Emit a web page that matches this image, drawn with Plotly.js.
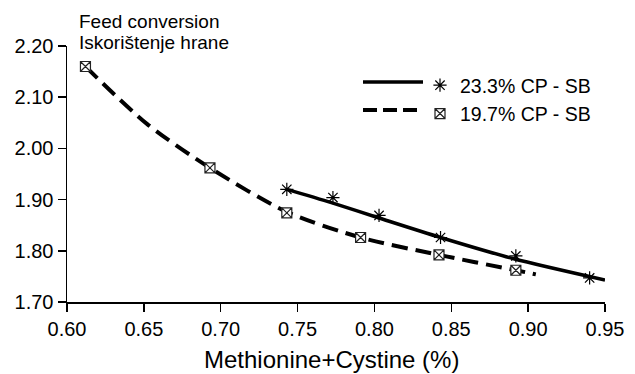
<!DOCTYPE html>
<html>
<head>
<meta charset="utf-8">
<script src="https://cdn.plot.ly/plotly-3.0.1.min.js"></script>
<style>html,body{margin:0;padding:0;background:#fff;}#chart{width:635px;height:374px;}</style>
</head>
<body>
<div id="chart"></div>
<script>
// Series names
var seriesA = "23.3% CP - SB";
var seriesB = "19.7% CP - SB";

// Observed points (Methionine+Cystine %, feed conversion)
var xA = [0.743, 0.773, 0.803, 0.843, 0.892, 0.940];
var yA = [1.920, 1.904, 1.869, 1.826, 1.790, 1.747];
var xB = [0.612, 0.693, 0.743, 0.791, 0.842, 0.892];
var yB = [2.160, 1.962, 1.874, 1.826, 1.792, 1.762];

// Fitted trend curves
var fitXA = [0.743, 0.772, 0.803, 0.843, 0.890, 0.950];
var fitYA = [1.920, 1.894, 1.864, 1.826, 1.785, 1.743];
var fitXB = [0.612, 0.652, 0.693, 0.743, 0.791, 0.842, 0.892, 0.905];
var fitYB = [2.160, 2.048, 1.962, 1.876, 1.826, 1.792, 1.762, 1.754];

// Axis ticks
var xTickVals = [0.60, 0.65, 0.70, 0.75, 0.80, 0.85, 0.90, 0.95];
var xTickText = ["0.60", "0.65", "0.70", "0.75", "0.80", "0.85", "0.90", "0.95"];
var yTickVals = [1.70, 1.80, 1.90, 2.00, 2.10, 2.20];
var yTickText = ["1.70", "1.80", "1.90", "2.00", "2.10", "2.20"];

var xTitle = "Methionine+Cystine (%)";
var yLabel1 = "Feed conversion";
var yLabel2 = "Iskorištenje hrane";

var FONT = "Arial, 'Liberation Sans', sans-serif";

var traces = [
  {x: fitXB, y: fitYB, mode: "lines", line: {color: "#000", width: 4, dash: "16px,8px", shape: "spline", smoothing: 0.8}, showlegend: false, hoverinfo: "skip"},
  {x: fitXA, y: fitYA, mode: "lines", line: {color: "#000", width: 3.5, shape: "spline", smoothing: 0.8}, showlegend: false, hoverinfo: "skip"},
  {x: xA, y: yA, name: seriesA, mode: "markers", cliponaxis: false,
   marker: {symbol: "asterisk-open", size: 11, color: "#000", line: {color: "#000", width: 1.2}}},
  {x: xB, y: yB, name: seriesB, mode: "markers", cliponaxis: false,
   marker: {symbol: "square-x", size: 10, color: "#fff", line: {color: "#222", width: 1.2}}}
];

var layout = {
  width: 635, height: 374,
  margin: {l: 67, r: 30, t: 46, b: 72},
  paper_bgcolor: "#fff", plot_bgcolor: "#fff",
  font: {family: FONT, color: "#000", size: 18},
  showlegend: true,
  legend: {x: (420 - 67) / 538, y: 1 - (66 - 46) / 256, xanchor: "left", yanchor: "top",
           bgcolor: "rgba(0,0,0,0)", borderwidth: 0, font: {family: FONT, size: 19.5, color: "#000"},
           tracegroupgap: 0, itemwidth: 30},
  xaxis: {range: [0.6, 0.95], tickvals: xTickVals, ticktext: xTickText,
          showline: true, linecolor: "#000", linewidth: 1.5, ticks: "outside", ticklen: 8, tickwidth: 1.5, tickcolor: "#000",
          showgrid: false, zeroline: false, tickfont: {family: FONT, size: 20, color: "#000"}},
  yaxis: {range: [1.7, 2.2], tickvals: yTickVals, ticktext: yTickText,
          showline: true, linecolor: "#000", linewidth: 1.5, ticks: "outside", ticklen: 8, tickwidth: 1.5, tickcolor: "#000",
          showgrid: false, zeroline: false, tickfont: {family: FONT, size: 20, color: "#000"}},
  annotations: [
    {text: xTitle, xref: "paper", yref: "paper", x: (331 - 67) / 538, y: -(359 - 302) / 256, xanchor: "center", yanchor: "middle", borderpad: 0, showarrow: false, font: {family: FONT, size: 24, color: "#000"}},
    {text: yLabel1, xref: "paper", yref: "paper", x: (77 - 67) / 538, y: 1 + (46 - 21) / 256, xanchor: "left", yanchor: "middle", showarrow: false, font: {family: FONT, size: 19, color: "#000"}},
    {text: yLabel2, xref: "paper", yref: "paper", x: (77 - 67) / 538, y: 1 + (46 - 42) / 256, xanchor: "left", yanchor: "middle", showarrow: false, font: {family: FONT, size: 19, color: "#000"}}
  ],
  shapes: [
    {type: "line", xref: "paper", yref: "paper", x0: (363 - 67) / 538, x1: (423 - 67) / 538, y0: 1 - (82 - 46) / 256, y1: 1 - (82 - 46) / 256, line: {color: "#000", width: 3.5}},
    {type: "line", xref: "paper", yref: "paper", x0: (363 - 67) / 538, x1: (423 - 67) / 538, y0: 1 - (110 - 46) / 256, y1: 1 - (110 - 46) / 256, line: {color: "#000", width: 4, dash: "14px,6px"}}
  ]
};

Plotly.newPlot("chart", traces, layout, {staticPlot: true, displayModeBar: false});
</script>
</body>
</html>
